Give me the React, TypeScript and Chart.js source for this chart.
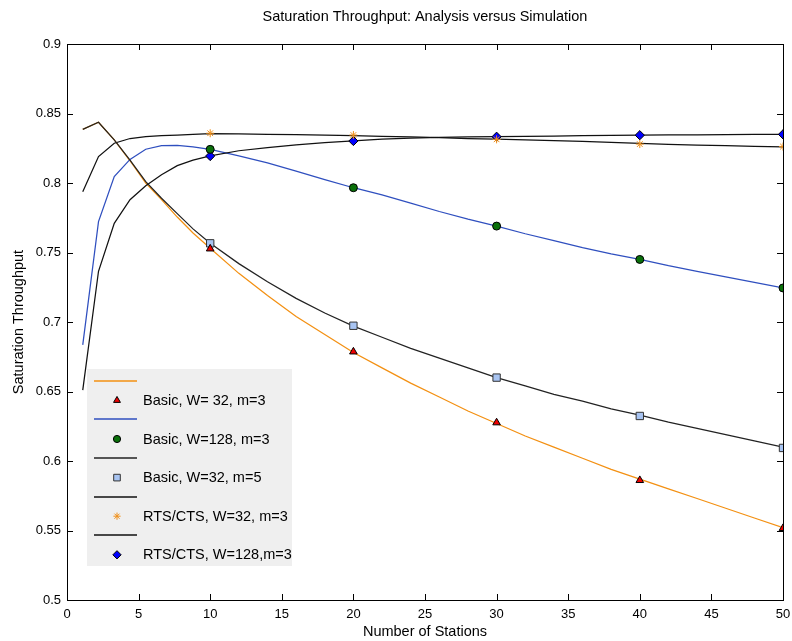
import React, { useEffect, useRef } from "react";
import { Chart, registerables } from "chart.js";
import { drawPoint } from "chart.js/helpers";

Chart.register(...registerables);

// ---- Data ----
const xAnalysis = [1.1, 2.2, 3.3, 4.4, 5.5, 6.6, 7.7, 8.8, 10, 12, 14, 16, 18, 20, 22, 24, 26, 28, 30, 32, 34, 36, 38, 40, 42, 44, 46, 48, 50];
const basicW32m3 = [0.8386, 0.8437, 0.831, 0.816, 0.8, 0.788, 0.7755, 0.764, 0.753, 0.735, 0.719, 0.704, 0.691, 0.678, 0.667, 0.656, 0.646, 0.636, 0.627, 0.618, 0.61, 0.602, 0.594, 0.587, 0.58, 0.573, 0.566, 0.559, 0.552];
const basicW128m3 = [0.6836, 0.7722, 0.8046, 0.817, 0.8243, 0.8268, 0.827, 0.826, 0.8242, 0.8195, 0.8145, 0.8085, 0.8025, 0.7966, 0.7915, 0.7855, 0.7795, 0.774, 0.769, 0.7635, 0.7585, 0.7535, 0.749, 0.745, 0.7405, 0.7365, 0.7325, 0.7285, 0.7245];
const basicW32m5 = [0.8386, 0.8437, 0.831, 0.8165, 0.801, 0.789, 0.778, 0.767, 0.7566, 0.742, 0.729, 0.717, 0.7065, 0.697, 0.689, 0.681, 0.674, 0.667, 0.66, 0.654, 0.648, 0.643, 0.6375, 0.633, 0.628, 0.6235, 0.619, 0.6145, 0.61];
const rtsW32m3 = [0.7937, 0.819, 0.8286, 0.832, 0.8333, 0.834, 0.8345, 0.835, 0.8355, 0.8353, 0.835, 0.8348, 0.8345, 0.834, 0.8335, 0.8332, 0.8327, 0.832, 0.8315, 0.831, 0.8305, 0.83, 0.8292, 0.8285, 0.8278, 0.8273, 0.8268, 0.8264, 0.826];
const rtsW128m3 = [0.651, 0.7365, 0.771, 0.788, 0.798, 0.806, 0.8125, 0.8165, 0.8195, 0.8232, 0.8255, 0.8275, 0.829, 0.8303, 0.8315, 0.8323, 0.8328, 0.8331, 0.8333, 0.8336, 0.8338, 0.834, 0.8342, 0.8344, 0.8346, 0.8347, 0.8348, 0.8349, 0.835];

const xSim = [10, 20, 30, 40, 50];
const simBasicW32m3 = [0.7527, 0.6786, 0.6276, 0.5861, 0.5516];
const simBasicW128m3 = [0.8242, 0.7966, 0.769, 0.745, 0.7245];
const simBasicW32m5 = [0.7566, 0.6973, 0.66, 0.6324, 0.6094];
const simRtsW32m3 = [0.8358, 0.8345, 0.8314, 0.828, 0.8262];
const simRtsW128m3 = [0.8194, 0.8302, 0.8333, 0.8344, 0.835];

const seriesLabels = ["Basic, W= 32, m=3", "Basic, W=128, m=3", "Basic, W=32, m=5", "RTS/CTS, W=32, m=3", "RTS/CTS, W=128,m=3"];
const titleText = "Saturation Throughput: Analysis versus Simulation";
const xTitle = "Number of Stations";
const yTitle = "Saturation Throughput";

const FONT = "'Liberation Sans', Arial, Helvetica, sans-serif";
const LABEL_SIZE = 14.5;

const toXY = (xs: number[], ys: number[]) => xs.map((x, i) => ({ x, y: ys[i] }));

const lineColors = ["#f39012", "#2f4fbf", "#222222", "#111111", "#111111"];
const markers = [
  { pointStyle: "triangle", radius: 4.4, backgroundColor: "#ee0000", borderColor: "#000000" },
  { pointStyle: "circle", radius: 4, backgroundColor: "#0a700a", borderColor: "#000000" },
  { pointStyle: "rect", radius: 5.2, backgroundColor: "#a8c4f2", borderColor: "#333333" },
  { pointStyle: "star", radius: 4, backgroundColor: "#f0901a", borderColor: "#f0901a" },
  { pointStyle: "rectRot", radius: 4.6, backgroundColor: "#0000ff", borderColor: "#000000" },
];

const boxPlugin = {
  id: "matlabBox",
  afterDatasetsDraw(chart: any) {
    const { ctx, chartArea: a, scales } = chart;
    const xs = scales.x;
    const ys = scales.y;
    ctx.save();
    // axes box
    ctx.strokeStyle = "#000";
    ctx.lineWidth = 1;
    ctx.strokeRect(Math.round(a.left) + 0.5, Math.round(a.top) + 0.5, Math.round(a.right - a.left), Math.round(a.bottom - a.top));
    // inward ticks
    const tl = 6;
    ctx.beginPath();
    xs.ticks.forEach((t: any) => {
      const px = Math.round(xs.getPixelForValue(t.value)) + 0.5;
      ctx.moveTo(px, a.bottom);
      ctx.lineTo(px, a.bottom - tl);
      ctx.moveTo(px, a.top);
      ctx.lineTo(px, a.top + tl);
    });
    ys.ticks.forEach((t: any) => {
      const py = Math.round(ys.getPixelForValue(t.value)) + 0.5;
      ctx.moveTo(a.left, py);
      ctx.lineTo(a.left + tl, py);
      ctx.moveTo(a.right, py);
      ctx.lineTo(a.right - tl, py);
    });
    ctx.stroke();

    // legend
    const lx = 87, ly = 369, lw = 205, lh = 197;
    ctx.fillStyle = "#efefef";
    ctx.fillRect(lx, ly, lw, lh);
    const rowH = 19.3;
    const firstY = 380.7;
    ctx.font = LABEL_SIZE + "px " + FONT;
    ctx.textBaseline = "middle";
    ctx.textAlign = "left";
    for (let i = 0; i < 5; i++) {
      const yl = firstY + rowH * 2 * i;
      const ym = yl + rowH + 0.4;
      ctx.strokeStyle = lineColors[i];
      ctx.lineWidth = 1.5;
      ctx.beginPath();
      ctx.moveTo(94, Math.round(yl));
      ctx.lineTo(137, Math.round(yl));
      ctx.stroke();
      const m = markers[i];
      ctx.fillStyle = m.backgroundColor;
      ctx.strokeStyle = m.borderColor;
      ctx.lineWidth = 1;
      (drawPoint as any)(ctx, { pointStyle: m.pointStyle, radius: m.radius * 0.9, rotation: 0, borderWidth: 1 }, 117, ym);
      ctx.fillStyle = "#000";
      ctx.fillText(seriesLabels[i], 143, ym + 0.5);
    }

    // titles
    ctx.fillStyle = "#000";
    ctx.textAlign = "center";
    ctx.textBaseline = "middle";
    ctx.font = LABEL_SIZE + "px " + FONT;
    ctx.fillText(titleText, (a.left + a.right) / 2, 17);
    ctx.fillText(xTitle, (a.left + a.right) / 2, 632);
    ctx.translate(19, (a.top + a.bottom) / 2);
    ctx.rotate(-Math.PI / 2);
    ctx.fillText(yTitle, 0, 0);
    ctx.restore();
  },
};

export default function App() {
  const ref = useRef<HTMLCanvasElement | null>(null);
  useEffect(() => {
    if (!ref.current) return;
    const lineDs = [basicW32m3, basicW128m3, basicW32m5, rtsW32m3, rtsW128m3].map((ys, i) => ({
      type: "line" as const,
      label: "line" + i,
      data: toXY(xAnalysis, ys),
      borderColor: lineColors[i],
      borderWidth: 1.25,
      pointRadius: 0,
      fill: false,
      tension: 0,
      order: i === 2 ? 5 : 10 - i,
    }));
    const simDs = [simBasicW32m3, simBasicW128m3, simBasicW32m5, simRtsW32m3, simRtsW128m3].map((ys, i) => ({
      type: "line" as const,
      label: seriesLabels[i],
      data: toXY(xSim, ys),
      showLine: false,
      pointStyle: markers[i].pointStyle,
      pointRadius: markers[i].radius,
      pointBackgroundColor: markers[i].backgroundColor,
      pointBorderColor: markers[i].borderColor,
      pointBorderWidth: 1,
      order: 0,
    }));
    const chart = new Chart(ref.current, {
      type: "line",
      data: { datasets: [...simDs, ...lineDs] as any },
      options: {
        animation: false,
        responsive: false,
        devicePixelRatio: 1,
        layout: { padding: { left: 0, top: 44, right: 9, bottom: 0 } },
        plugins: { legend: { display: false }, tooltip: { enabled: false }, title: { display: false } },
        scales: {
          x: {
            type: "linear",
            min: 0,
            max: 50,
            grid: { display: false, drawTicks: false },
            border: { display: false },
            ticks: { stepSize: 5, padding: 7, color: "#000", font: { family: FONT, size: 13 }, maxRotation: 0 },
            afterFit: (s: any) => { s.height = 41; s.paddingLeft = 0; s.paddingRight = 0; },
          },
          y: {
            type: "linear",
            min: 0.5,
            max: 0.9,
            grid: { display: false, drawTicks: false },
            border: { display: false },
            ticks: {
              stepSize: 0.05,
              padding: 6,
              color: "#000",
              font: { family: FONT, size: 13 },
              callback: (v: any) => String(Number(Number(v).toFixed(2))),
            },
            afterFit: (s: any) => { s.width = 67; s.paddingTop = 0; s.paddingBottom = 0; },
          },
        },
      } as any,
      plugins: [boxPlugin],
    });
    return () => chart.destroy();
  }, []);
  return (
    <div style={{ position: "fixed", left: 0, top: 0, width: 792, height: 641, background: "#fff" }}>
      <canvas ref={ref} width={792} height={641} />
    </div>
  );
}
